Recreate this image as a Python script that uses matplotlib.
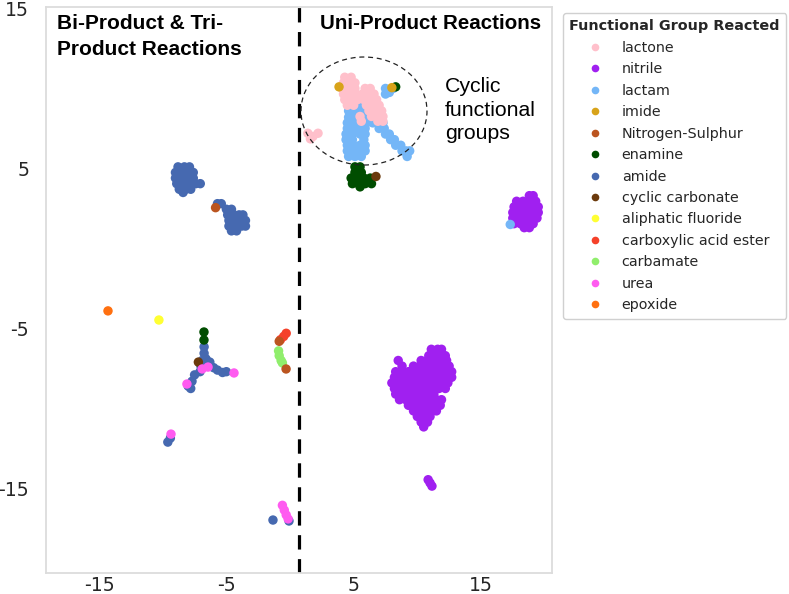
import matplotlib
matplotlib.use("Agg")
import matplotlib.pyplot as plt
from matplotlib.lines import Line2D
from matplotlib.patches import Ellipse

plt.rcParams['axes.unicode_minus'] = False

# ---------------- data (UMAP coordinates) ----------------
categories = ["lactone", "nitrile", "lactam", "imide", "Nitrogen-Sulphur", "enamine",
              "amide", "cyclic carbonate", "aliphatic fluoride", "carboxylic acid ester",
              "carbamate", "urea", "epoxide"]
colors = ["#ffc0cb", "#a020f0", "#74b6f7", "#d8a31a", "#bb5520", "#004d00",
          "#4669b0", "#6b3a0c", "#ffff33", "#f5412a", "#90ee6c", "#ff5bf0", "#ff7010"]

# rows: (y, [x, ...])
nitrile_rows = [
    (-6.3, [11.1, 11.6, 11.9]),
    (-6.7, [10.9, 11.4, 11.9, 12.2]),
    (-7.0, [8.5, 10.3, 10.8, 11.3, 11.8, 12.3]),
    (-7.35, [8.8, 9.7, 10.2, 10.7, 11.2, 11.7, 12.2, 12.5]),
    (-7.7, [8.3, 8.8, 9.3, 9.8, 10.3, 10.8, 11.3, 11.8, 12.3, 12.7]),
    (-8.05, [8.2, 8.7, 9.2, 9.7, 10.2, 10.7, 11.2, 11.7, 12.2, 12.7]),
    (-8.4, [8.0, 8.5, 9.0, 9.5, 10.0, 10.5, 11.0, 11.5, 12.0, 12.4]),
    (-8.75, [8.2, 8.7, 9.2, 9.7, 10.2, 10.7, 11.2, 11.7, 12.2]),
    (-9.1, [8.3, 8.8, 9.3, 9.8, 10.3, 10.8, 11.3]),
    (-9.45, [8.6, 9.1, 9.6, 10.1, 10.6, 11.1, 11.5, 11.9]),
    (-9.8, [9.3, 9.8, 10.3, 10.8, 11.3, 11.8]),
    (-10.15, [9.7, 10.2, 10.7, 11.2, 11.5]),
    (-10.5, [10.0, 10.5, 11.0]),
    (-10.85, [10.3, 10.8]),
    (-11.15, [10.5]),
    # small streak below
    (-14.45, [10.85]), (-14.65, [11.0]), (-14.85, [11.15]),
    # right-hand cluster
    (3.3, [18.8, 19.1]),
    (2.95, [17.8, 18.3, 18.8, 19.3]),
    (2.6, [17.6, 18.1, 18.6, 19.1, 19.5]),
    (2.25, [17.5, 18.0, 18.5, 19.0, 19.5]),
    (1.9, [17.5, 18.0, 18.5, 19.0, 19.4]),
    (1.55, [17.6, 18.1, 18.6, 19.1]),
    (1.3, [18.4, 18.8]),
]

lactam_rows = [
    (9.0, [4.7, 5.2, 5.7, 6.2]),
    (8.6, [4.6, 5.1, 5.6, 6.0, 6.5]),
    (8.2, [4.6, 5.1, 5.6, 6.1, 6.6]),
    (7.85, [4.5, 5.0, 5.5, 6.0, 6.5, 7.0, 7.3]),
    (7.5, [4.5, 5.0, 5.5, 5.9, 7.0, 7.4]),
    (7.15, [4.4, 4.9, 5.5, 5.9, 7.5, 7.8]),
    (6.8, [4.4, 4.9, 5.8, 7.9, 8.2]),
    (6.45, [4.5, 5.0, 5.5, 5.9, 8.3, 8.7]),
    (6.1, [4.5, 5.0, 5.5, 5.9, 8.8, 9.1, 9.4]),
    (5.75, [4.6, 5.1, 5.6, 9.2]),
    (10.0, [7.5, 8.1]), (9.75, [7.8]), (9.65, [7.5]),
    (1.5, [17.3]),
]

lactone_rows = [
    (10.7, [4.3, 4.8]),
    (10.35, [4.2, 4.7, 5.1]),
    (10.0, [4.1, 4.6, 5.1, 5.9, 6.3]),
    (9.65, [4.2, 4.7, 5.2, 5.7, 6.2, 6.6]),
    (9.3, [4.3, 4.8, 5.3, 5.8, 6.3, 6.8]),
    (8.95, [4.5, 5.0, 6.0, 6.5, 7.0]),
    (8.6, [6.2, 6.7, 7.2]),
    (8.25, [5.5, 6.4, 6.9, 7.3]),
    (7.95, [5.6, 6.9, 7.3]),
    (7.2, [1.4, 2.2]), (7.0, [1.8]), (6.85, [1.6]),
]

amide_rows = [
    # upper-left blob
    (5.1, [-8.8, -8.3, -7.9]),
    (4.75, [-9.0, -8.5, -8.0, -7.6]),
    (4.4, [-9.0, -8.5, -8.0, -7.6]),
    (4.05, [-8.9, -8.4, -7.9, -7.4, -7.05]),
    (3.7, [-8.7, -8.2, -7.8]),
    (3.5, [-8.4]),
    # second blob
    (2.8, [-5.7, -5.4]),
    (2.45, [-5.0, -4.6]),
    (2.1, [-4.9, -4.4, -4.0, -3.7]),
    (1.75, [-4.8, -4.3, -3.8, -3.5]),
    (1.4, [-4.8, -4.3, -3.8, -3.5]),
    (1.1, [-4.6, -4.2]),
    # three-armed star
    (-6.15, [-6.75]), (-6.55, [-6.75]), (-6.9, [-6.6]), (-7.0, [-6.9]),
    (-7.1, [-6.3]), (-7.35, [-7.0, -6.5]), (-7.45, [-6.0]), (-7.6, [-5.7]),
    (-7.7, [-5.0, -7.07]), (-7.75, [-5.3]), (-7.9, [-7.5]), (-8.3, [-7.7]),
    (-8.6, [-8.0]), (-8.75, [-7.8]),
    # lower left
    (-12.1, [-9.6]), (-11.85, [-9.4]),
    # bottom
    (-16.97, [-1.34]), (-17.03, [-0.08]),
]

urea_rows = [
    (-7.78, [-4.4]), (-7.53, [-6.9]), (-7.41, [-6.44]), (-8.47, [-8.1]),
    (-11.6, [-9.35]),
    (-16.05, [-0.6]), (-16.35, [-0.45]), (-16.65, [-0.3]), (-16.9, [-0.15]),
]

enamine_rows = [
    (5.1, [5.1, 5.5]),
    (4.75, [5.1, 5.6]),
    (4.4, [4.8, 5.3, 5.8, 6.3]),
    (4.05, [4.9, 5.4, 5.9, 6.4]),
    (3.85, [5.5]),
    (10.1, [8.3]),
    (-5.22, [-6.76]), (-5.72, [-6.76]),
]

imide_rows = [(10.1, [3.85]), (10.05, [8.0])]
cyclic_carbonate_rows = [(4.5, [6.75]), (-7.1, [-7.2])]
nitrogen_sulphur_rows = [(-5.8, [-0.85]), (-7.53, [-0.31]), (2.55, [-5.85])]
ester_rows = [(-5.3, [-0.3]), (-5.5, [-0.5]), (-5.7, [-0.75])]
carbamate_rows = [(-6.4, [-0.9]), (-6.7, [-0.85]), (-7.0, [-0.7]), (-7.15, [-0.6])]
fluoride_rows = [(-4.47, [-10.3])]
epoxide_rows = [(-3.9, [-14.3])]

x_ticks = [-15, -5, 5, 15]
y_ticks = [15, 5, -5, -15]

# ---------------- plotting ----------------
def flatten(rows):
    xs, ys = [], []
    for y, xl in rows:
        for x in xl:
            xs.append(x)
            ys.append(y)
    return xs, ys

fig = plt.figure(figsize=(7.89, 5.94), dpi=100)
ax = fig.add_axes([46/789, 1-573/594, 506/789, 566/594])

cmap = dict(zip(categories, colors))
draw_order = [("nitrile", nitrile_rows), ("amide", amide_rows), ("lactam", lactam_rows),
              ("lactone", lactone_rows), ("enamine", enamine_rows), ("imide", imide_rows),
              ("cyclic carbonate", cyclic_carbonate_rows), ("urea", urea_rows),
              ("carbamate", carbamate_rows), ("carboxylic acid ester", ester_rows),
              ("Nitrogen-Sulphur", nitrogen_sulphur_rows),
              ("aliphatic fluoride", fluoride_rows), ("epoxide", epoxide_rows)]
for name, rows in draw_order:
    xs, ys = flatten(rows)
    ax.scatter(xs, ys, s=46, c=cmap[name], edgecolors='none', zorder=3)

ax.set_xlim(-19.17, 20.58)
ax.set_ylim(-20.28, 15.09)
ax.set_xticks(x_ticks)
ax.set_yticks(y_ticks)
ax.set_xticklabels([str(v) for v in x_ticks])
ax.set_yticklabels([str(v) for v in y_ticks])
ax.tick_params(axis='both', length=0, labelsize=13.6, labelcolor='#262626')
ax.tick_params(axis='y', pad=12)
ax.tick_params(axis='x', pad=2)
for sp in ax.spines.values():
    sp.set_color('#dcdcdc')
    sp.set_linewidth(1.3)

ax.axvline(0.71, color='black', lw=2.3, linestyle=(0, (4.5, 3.0)), zorder=2)
ax.add_patch(Ellipse((5.81, 8.59), 9.9, 6.75, fill=False, edgecolor='#222222',
                     lw=0.9, linestyle=(0, (4, 3)), zorder=4))

tf = dict(family='Liberation Sans', color='black')
ax.text(0.022, 0.988, "Bi-Product & Tri-\nProduct Reactions", transform=ax.transAxes,
        ha='left', va='top', fontsize=15, fontweight='bold', linespacing=1.45, **tf)
ax.text(0.5415, 0.988, "Uni-Product Reactions", transform=ax.transAxes,
        ha='left', va='top', fontsize=14.8, fontweight='bold', **tf)
ax.text(0.7885, 0.876, "Cyclic\nfunctional\ngroups", transform=ax.transAxes,
        ha='left', va='top', fontsize=15.3, linespacing=1.3, **tf)

handles = [Line2D([], [], marker='o', linestyle='none', markersize=5.5,
                  markerfacecolor=c, markeredgecolor='none') for c in colors]
leg = fig.legend(handles, categories, loc='upper left',
                 bbox_to_anchor=(563/789, 1-13/594), title="Functional Group Reacted",
                 fontsize=10.3, title_fontproperties={'weight': 'bold', 'size': 10.4},
                 frameon=True, fancybox=True, edgecolor='#d0d0d0', framealpha=1,
                 borderpad=0.45, handlelength=2.0, handletextpad=0.9,
                 labelspacing=0.52, borderaxespad=0)
for t in leg.get_texts():
    t.set_color('#262626')
leg.get_title().set_color('#262626')

fig.savefig("out.png", dpi=100)
